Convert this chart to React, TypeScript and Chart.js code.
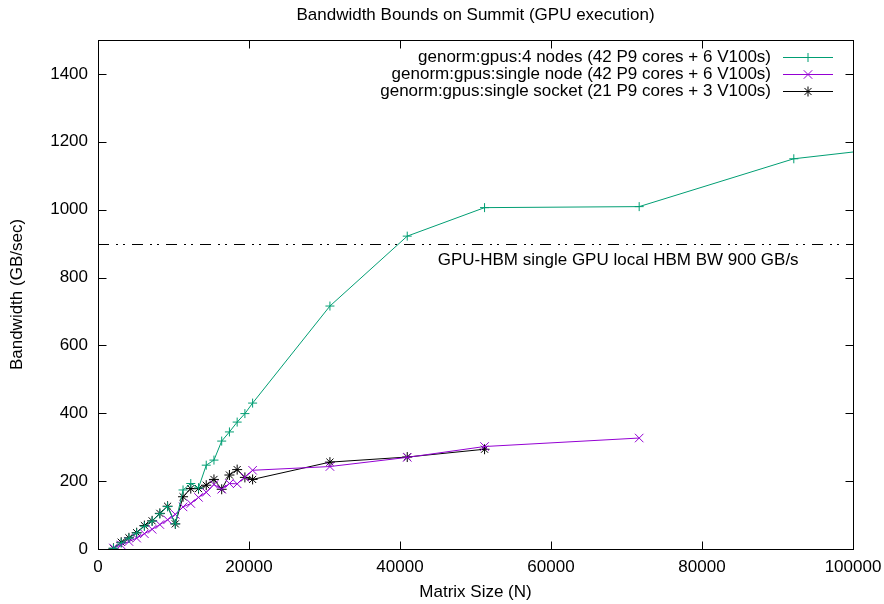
import React, { useEffect, useRef } from 'react';
import { Chart, registerables } from 'chart.js';

Chart.register(...registerables);

const TITLE = 'Bandwidth Bounds on Summit (GPU execution)';
const X_TITLE = 'Matrix Size (N)';
const Y_TITLE = 'Bandwidth (GB/sec)';

const xTickValues = [0, 20000, 40000, 60000, 80000, 100000];
const yTickValues = [0, 200, 400, 600, 800, 1000, 1200, 1400];

const fourNodeLabel = 'genorm:gpus:4 nodes (42 P9 cores + 6 V100s)';
const fourNodeSizes = [2048, 3072, 4096, 5120, 6144, 7168, 8192, 9216, 10240, 11264, 12288, 13312, 14336, 15360, 16384, 17408, 18432, 19456, 20480, 30720, 40960, 51200, 71680, 92160, 102400];
const fourNodeBandwidth = [2, 18, 32, 47, 67, 82, 104, 125, 74, 174, 193, 180, 247, 262, 318, 345, 374, 399, 430, 716, 922, 1006, 1009, 1150, 1176];

const singleNodeLabel = 'genorm:gpus:single node (42 P9 cores + 6 V100s)';
const singleNodeSizes = [2048, 3072, 4096, 5120, 6144, 7168, 8192, 9216, 10240, 11264, 12288, 13312, 14336, 15360, 16384, 17408, 18432, 19456, 20480, 30720, 40960, 51200, 71680];
const singleNodeBandwidth = [3, 12, 22, 32, 45, 58, 72, 86, 102, 124, 134, 152, 167, 190, 176, 193, 192, 212, 232, 243, 270, 302, 327];

const singleSocketLabel = 'genorm:gpus:single socket (21 P9 cores + 3 V100s)';
const singleSocketSizes = [2048, 3072, 4096, 5120, 6144, 7168, 8192, 9216, 10240, 11264, 12288, 13312, 14336, 15360, 16384, 17408, 18432, 19456, 20480, 30720, 40960, 51200];
const singleSocketBandwidth = [2, 20, 33, 48, 69, 83, 105, 126, 74, 154, 178, 178, 188, 205, 176, 218, 234, 211, 205, 256, 271, 294];

const hbmBandwidth = 900;
const hbmLabel = 'GPU-HBM single GPU local HBM BW 900 GB/s';
const hbmLabelX = 45000;
const hbmLabelY = 850;

const GREEN = '#009e73';
const PURPLE = '#9400d3';
const BLACK = '#000000';
const FONT = "'Liberation Sans', Arial, Helvetica, sans-serif";
const FS = 17;

function drawMarker(ctx: CanvasRenderingContext2D, style: string, x: number, y: number, r: number) {
  ctx.beginPath();
  if (style === 'cross' || style === 'star') {
    ctx.moveTo(x - r, y);
    ctx.lineTo(x + r, y);
    ctx.moveTo(x, y - r);
    ctx.lineTo(x, y + r);
  }
  if (style === 'crossRot' || style === 'star') {
    const d = r * Math.SQRT1_2;
    ctx.moveTo(x - d, y - d);
    ctx.lineTo(x + d, y + d);
    ctx.moveTo(x - d, y + d);
    ctx.lineTo(x + d, y - d);
  }
  ctx.stroke();
}

const gnuplotDecor = {
  id: 'gnuplotDecor',
  beforeDatasetsDraw(chart: any) {
    const { ctx, chartArea: a, scales } = chart;
    const x = scales.x;
    const y = scales.y;
    ctx.save();
    const yy = Math.round(y.getPixelForValue(hbmBandwidth)) + 0.5;
    ctx.strokeStyle = BLACK;
    ctx.lineWidth = 1;
    ctx.setLineDash([11, 7, 2, 5, 2, 7]);
    ctx.beginPath();
    ctx.moveTo(a.left, yy);
    ctx.lineTo(a.right, yy);
    ctx.stroke();
    ctx.setLineDash([]);
    ctx.font = `${FS}px ${FONT}`;
    ctx.fillStyle = BLACK;
    ctx.textAlign = 'left';
    ctx.textBaseline = 'middle';
    ctx.fillText(hbmLabel, x.getPixelForValue(hbmLabelX), y.getPixelForValue(hbmLabelY));
    ctx.restore();
  },
  afterDraw(chart: any) {
    const { ctx, chartArea: a, scales } = chart;
    const x = scales.x;
    const y = scales.y;
    ctx.save();
    ctx.strokeStyle = BLACK;
    ctx.lineWidth = 1;
    ctx.setLineDash([]);
    const L = Math.round(a.left) + 0.5;
    const R = Math.round(a.right) + 0.5;
    const T = Math.round(a.top) + 0.5;
    const B = Math.round(a.bottom) + 0.5;
    ctx.strokeRect(L, T, R - L, B - T);
    const tl = 8;
    ctx.beginPath();
    x.ticks.forEach((t: any) => {
      const px = Math.round(x.getPixelForValue(t.value)) + 0.5;
      ctx.moveTo(px, B);
      ctx.lineTo(px, B - tl);
      ctx.moveTo(px, T);
      ctx.lineTo(px, T + tl);
    });
    y.ticks.forEach((t: any) => {
      const py = Math.round(y.getPixelForValue(t.value)) + 0.5;
      ctx.moveTo(L, py);
      ctx.lineTo(L + tl, py);
      ctx.moveTo(R, py);
      ctx.lineTo(R - tl, py);
    });
    ctx.stroke();

    // gnuplot-style key: right-aligned text, then line sample with marker
    ctx.font = `${FS}px ${FONT}`;
    ctx.textAlign = 'right';
    ctx.textBaseline = 'middle';
    chart.data.datasets.forEach((ds: any, i: number) => {
      const ly = a.top + 17 + i * 17;
      ctx.fillStyle = BLACK;
      ctx.fillText(ds.label, a.right - 82, ly);
      ctx.strokeStyle = ds.borderColor;
      ctx.lineWidth = 1;
      ctx.beginPath();
      ctx.moveTo(a.right - 70, Math.round(ly) + 0.5);
      ctx.lineTo(a.right - 20, Math.round(ly) + 0.5);
      ctx.stroke();
      drawMarker(ctx, ds.pointStyle, a.right - 45, Math.round(ly) + 0.5, ds.pointRadius);
    });
    ctx.restore();
  },
};

function toPoints(xs: number[], ys: number[]) {
  return xs.map((v, i) => ({ x: v, y: ys[i] }));
}

export default function App() {
  const ref = useRef<HTMLCanvasElement | null>(null);

  useEffect(() => {
    if (!ref.current) return;
    const mk = (label: string, xs: number[], ys: number[], color: string, style: string, r: number) => ({
      label,
      data: toPoints(xs, ys),
      borderColor: color,
      backgroundColor: color,
      borderWidth: 1,
      pointStyle: style,
      pointRadius: r,
      pointHoverRadius: r,
      pointBorderColor: color,
      pointBorderWidth: 1,
      tension: 0,
      fill: false,
    });
    const chart = new Chart(ref.current, {
      type: 'line',
      data: {
        datasets: [
          mk(fourNodeLabel, fourNodeSizes, fourNodeBandwidth, GREEN, 'cross', 4.5),
          mk(singleNodeLabel, singleNodeSizes, singleNodeBandwidth, PURPLE, 'crossRot', 6),
          mk(singleSocketLabel, singleSocketSizes, singleSocketBandwidth, BLACK, 'star', 5),
        ] as any,
      },
      options: {
        responsive: false,
        animation: false,
        devicePixelRatio: 1,
        layout: { padding: { left: 0, right: 31, top: 0, bottom: 0 } },
        plugins: {
          legend: { display: false },
          tooltip: { enabled: false },
          title: {
            display: true,
            text: TITLE,
            color: BLACK,
            fullSize: false,
            font: { family: FONT, size: FS, weight: 'normal' },
            padding: { top: 4.8, bottom: 14.8 },
          },
        },
        scales: {
          x: {
            type: 'linear',
            min: 0,
            max: 100000,
            afterBuildTicks: (s: any) => {
              s.ticks = xTickValues.map((v) => ({ value: v }));
            },
            afterFit: (s: any) => {
              s.height = 55;
              s.paddingLeft = 0;
              s.paddingRight = 0;
            },
            ticks: {
              color: BLACK,
              font: { family: FONT, size: FS },
              padding: 8,
              maxRotation: 0,
              autoSkip: false,
              callback: (v: any) => String(v),
            },
            grid: { display: false, drawTicks: false },
            border: { display: false },
            title: {
              display: true,
              text: X_TITLE,
              color: BLACK,
              font: { family: FONT, size: FS },
              padding: { top: 4, bottom: 1.8 },
            },
          },
          y: {
            type: 'linear',
            min: 0,
            max: 1500,
            afterBuildTicks: (s: any) => {
              s.ticks = yTickValues.map((v) => ({ value: v }));
            },
            afterFit: (s: any) => {
              s.width = 98;
              s.paddingTop = 0;
              s.paddingBottom = 0;
            },
            ticks: {
              color: BLACK,
              font: { family: FONT, size: FS },
              padding: 10,
              autoSkip: false,
              callback: (v: any) => String(v),
            },
            grid: { display: false, drawTicks: false },
            border: { display: false },
            title: {
              display: true,
              text: Y_TITLE,
              color: BLACK,
              font: { family: FONT, size: FS },
              padding: { top: 7.5, bottom: 4 },
            },
          },
        },
      } as any,
      plugins: [gnuplotDecor],
    });
    return () => chart.destroy();
  }, []);

  return (
    <div style={{ position: 'fixed', left: 0, top: 0, width: 884, height: 604, background: '#fff' }}>
      <canvas ref={ref} width={884} height={604} style={{ width: 884, height: 604, display: 'block' }} />
    </div>
  );
}
